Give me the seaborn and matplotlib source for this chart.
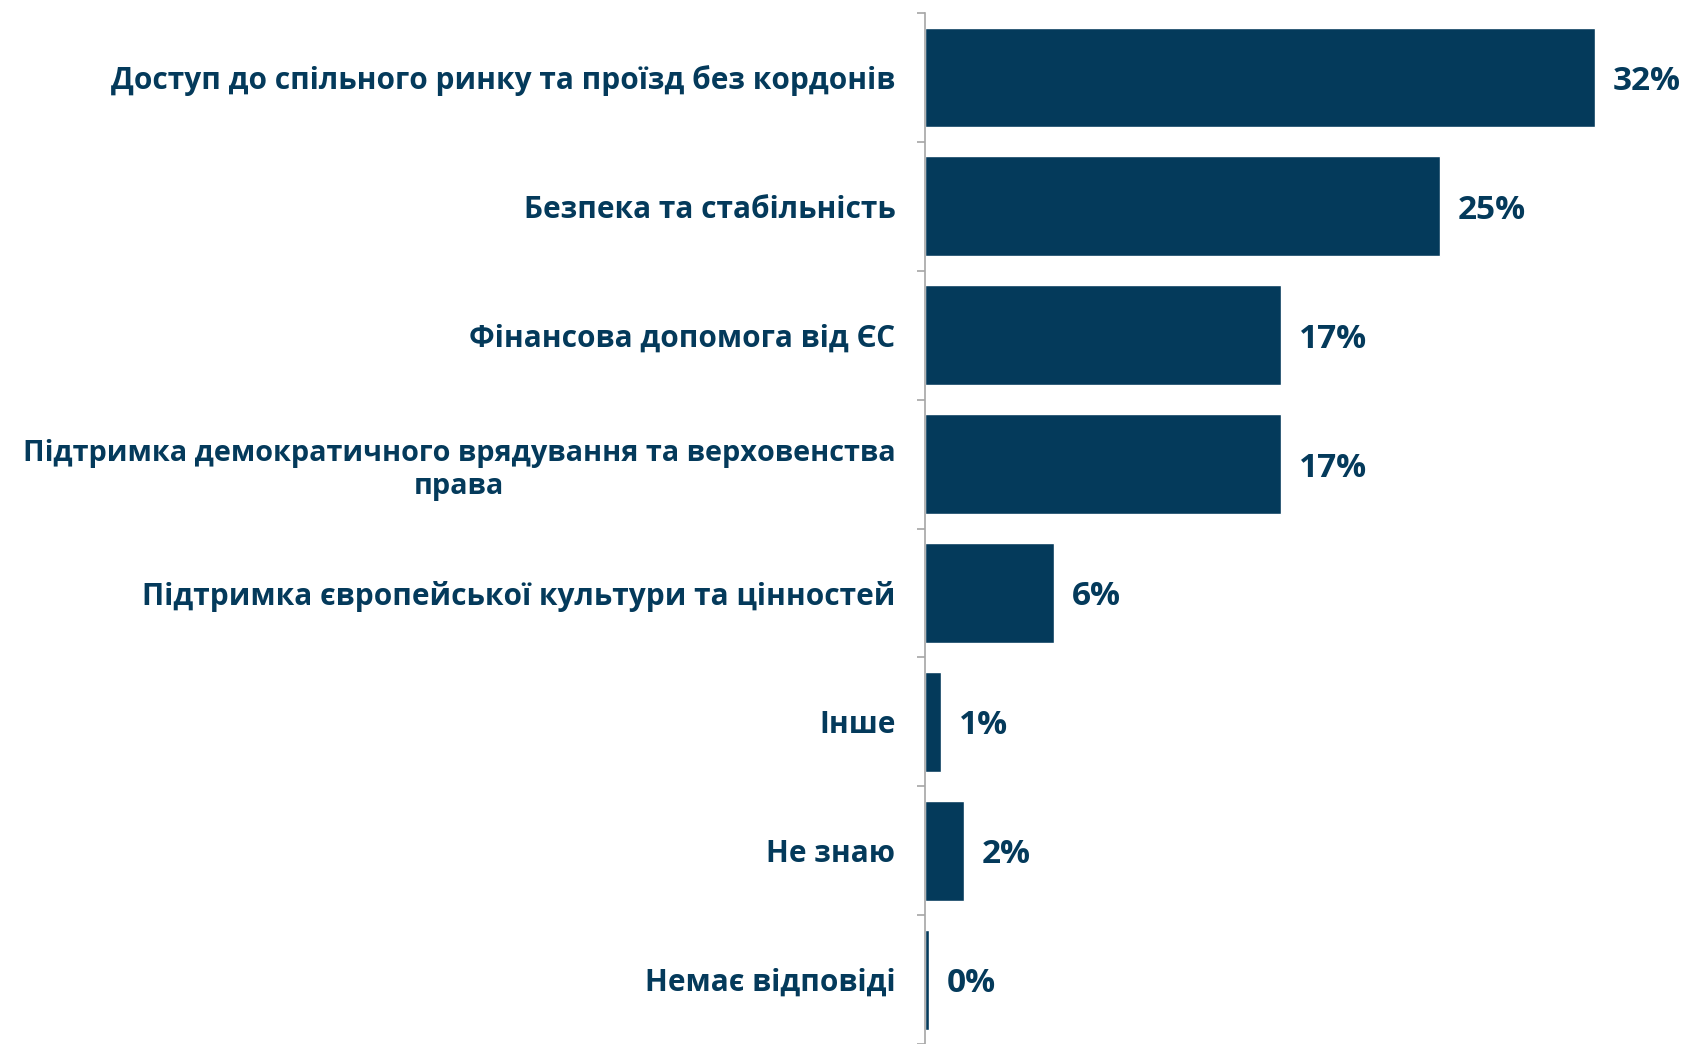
import numpy as np
import pandas as pd
import matplotlib
matplotlib.use("Agg")
import matplotlib.pyplot as plt
import seaborn as sns

# data
categories = [
    "Доступ до спільного ринку та проїзд без кордонів",
    "Безпека та стабільність",
    "Фінансова допомога від ЄС",
    "Підтримка демократичного врядування та верховенства\nправа",
    "Підтримка європейської культури та цінностей",
    "Інше",
    "Не знаю",
    "Немає відповіді",
]
values = [32.0, 24.6, 17.0, 17.0, 6.2, 0.8, 1.9, 0.2]

navy = "#043A5B"
grey = "#A6A6A6"

sns.set_theme(style="white")
plt.rcParams["font.family"] = ["Open Sans", "DejaVu Sans"]

df = pd.DataFrame({"cat": categories, "val": values})

fig = plt.figure(figsize=(16.84, 10.44), dpi=100)
ax = fig.add_axes([0.549, 0.0, 0.451, 0.9875])

sns.barplot(data=df, y="cat", x="val", orient="h", color=navy,
            saturation=1, width=0.775, ax=ax)

n = len(categories)
ax.set_xlim(0, 36.25)
ax.set_ylim(n - 0.5, -0.5)
ax.set_xlabel("")
ax.set_ylabel("")
ax.set_xticks([])

for s in ["top", "right", "bottom"]:
    ax.spines[s].set_visible(False)
ax.spines["left"].set_color(grey)
ax.spines["left"].set_linewidth(1.2)

# category dividers as minor ticks, like the original
ax.set_yticks(np.arange(-0.5, n), minor=True)
ax.tick_params(axis="y", which="minor", length=6, width=1.2, color=grey, left=True)
ax.tick_params(axis="y", which="major", length=0, pad=21)
for lab in ax.get_yticklabels():
    # the long two-line label is set a touch smaller so it fits the left edge
    lab.set_fontsize(20.8 if "\n" in lab.get_text() else 21.5)
    lab.set_fontweight("bold")
    lab.set_color(navy)
    lab.set_multialignment("center")
    lab.set_linespacing(1.2)

for i, v in enumerate(values):
    ax.text(v + 0.85, i, f"{v:.0f}%", va="center_baseline", ha="left",
            fontsize=24, fontweight="bold", color=navy)

fig.savefig("out.png", dpi=100)
